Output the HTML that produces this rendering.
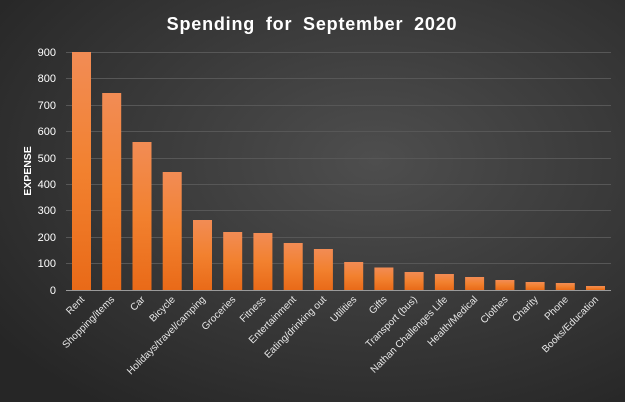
<!DOCTYPE html>
<html><head><style>
html,body{margin:0;padding:0;}
body{width:625px;height:402px;overflow:hidden;}
</style></head><body>
<svg width="625" height="402" xmlns="http://www.w3.org/2000/svg" font-family="Liberation Sans, sans-serif">
<defs>
<radialGradient id="bg" cx="0.6" cy="0.4" r="0.75">
<stop offset="0" stop-color="#4e4e4e"/>
<stop offset="1" stop-color="#262626"/>
</radialGradient>
<linearGradient id="bar" x1="0" y1="0" x2="0" y2="1">
<stop offset="0" stop-color="#f28c55"/>
<stop offset="0.5" stop-color="#f2812f"/>
<stop offset="1" stop-color="#e96a18"/>
</linearGradient>
</defs>
<rect width="625" height="402" fill="url(#bg)"/>
<text x="312" y="30" text-anchor="middle" fill="#fff" font-size="18" font-weight="bold" letter-spacing="0.8" word-spacing="5">Spending for September 2020</text>
<g stroke="#575757" stroke-width="1">
<line x1="66" x2="611" y1="52.5" y2="52.5"/>
<line x1="66" x2="611" y1="78.5" y2="78.5"/>
<line x1="66" x2="611" y1="105.5" y2="105.5"/>
<line x1="66" x2="611" y1="131.5" y2="131.5"/>
<line x1="66" x2="611" y1="158.5" y2="158.5"/>
<line x1="66" x2="611" y1="184.5" y2="184.5"/>
<line x1="66" x2="611" y1="210.5" y2="210.5"/>
<line x1="66" x2="611" y1="237.5" y2="237.5"/>
<line x1="66" x2="611" y1="263.5" y2="263.5"/>
</g>
<g fill="#fff" font-size="11" text-anchor="end">
<text x="56" y="56">900</text><text x="56" y="82">800</text><text x="56" y="109">700</text>
<text x="56" y="135">600</text><text x="56" y="162">500</text><text x="56" y="188">400</text>
<text x="56" y="214">300</text><text x="56" y="241">200</text><text x="56" y="267">100</text>
<text x="56" y="294">0</text>
</g>
<text transform="translate(31,171) rotate(-90)" text-anchor="middle" fill="#fff" font-size="10.5" font-weight="bold">EXPENSE</text>
<g fill="url(#bar)">
<rect x="72" y="52" width="19" height="238"/>
<rect x="102.2" y="93" width="19" height="197"/>
<rect x="132.5" y="142" width="19" height="148"/>
<rect x="162.7" y="172" width="19" height="118"/>
<rect x="193" y="220" width="19" height="70"/>
<rect x="223.2" y="232" width="19" height="58"/>
<rect x="253.4" y="233" width="19" height="57"/>
<rect x="283.7" y="243" width="19" height="47"/>
<rect x="313.9" y="249" width="19" height="41"/>
<rect x="344.2" y="262" width="19" height="28"/>
<rect x="374.4" y="267.5" width="19" height="22.5"/>
<rect x="404.6" y="272" width="19" height="18"/>
<rect x="434.9" y="274" width="19" height="16"/>
<rect x="465.1" y="277" width="19" height="13"/>
<rect x="495.4" y="280" width="19" height="10"/>
<rect x="525.6" y="282" width="19" height="8"/>
<rect x="555.8" y="283" width="19" height="7"/>
<rect x="586" y="286" width="19" height="4"/>
</g>
<line x1="66" x2="611" y1="290.5" y2="290.5" stroke="#9a9a9a" stroke-width="1"/>
<g fill="#e8e8e8" font-size="10" text-anchor="end">
<text transform="translate(85,300) rotate(-45)">Rent</text>
<text transform="translate(115,300) rotate(-45)">Shopping/items</text>
<text transform="translate(145.5,300) rotate(-45)">Car</text>
<text transform="translate(175.7,300) rotate(-45)">Bicycle</text>
<text transform="translate(206,300) rotate(-45)">Holidays/travel/camping</text>
<text transform="translate(236.2,300) rotate(-45)">Groceries</text>
<text transform="translate(266.4,300) rotate(-45)">Fitness</text>
<text transform="translate(296.7,300) rotate(-45)">Entertainment</text>
<text transform="translate(326.9,300) rotate(-45)">Eating/drinking out</text>
<text transform="translate(357.2,300) rotate(-45)">Utilities</text>
<text transform="translate(387.4,300) rotate(-45)">Gifts</text>
<text transform="translate(417.6,300) rotate(-45)">Transport (bus)</text>
<text transform="translate(447.9,300) rotate(-45)">Nathan Challenges Life</text>
<text transform="translate(478.1,300) rotate(-45)">Health/Medical</text>
<text transform="translate(508.4,300) rotate(-45)">Clothes</text>
<text transform="translate(538.6,300) rotate(-45)">Charity</text>
<text transform="translate(568.8,300) rotate(-45)">Phone</text>
<text transform="translate(599,300) rotate(-45)">Books/Education</text>
</g>
</svg>
</body></html>
